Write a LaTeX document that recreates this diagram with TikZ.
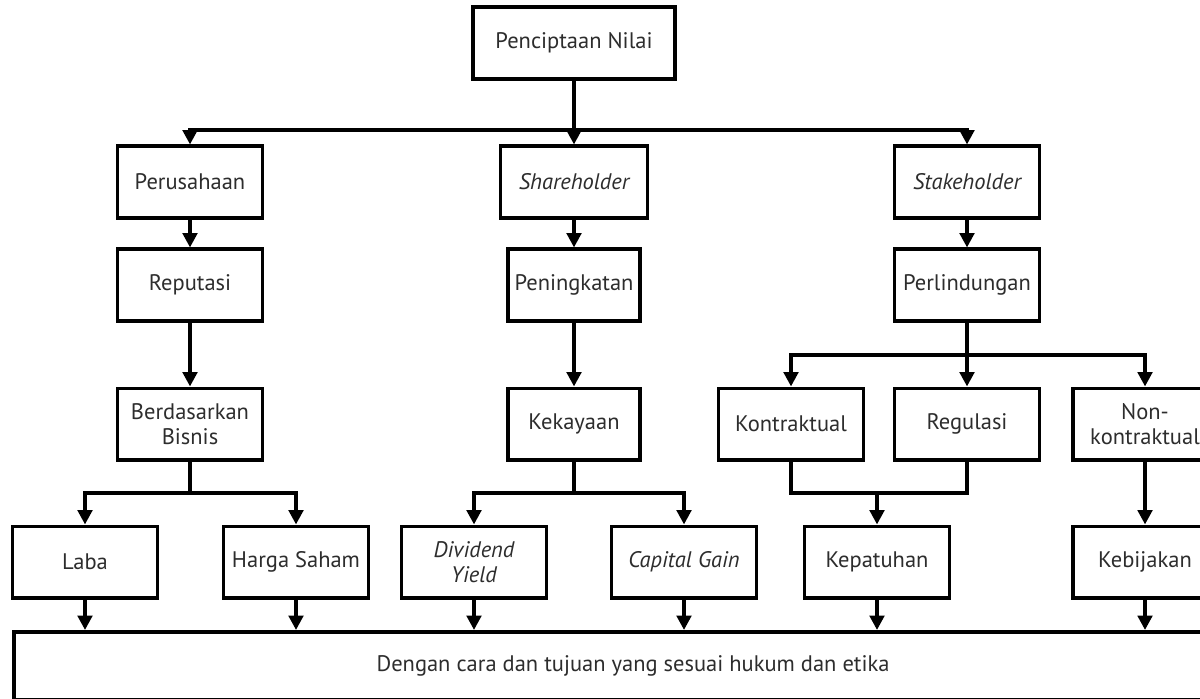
\documentclass[tikz,border=0pt]{standalone}
\usepackage{fontspec}
\setmainfont{PT Sans}
\usetikzlibrary{arrows.meta, positioning}
\definecolor{textgray}{RGB}{45,45,45}

\tikzset{
  box/.style={draw, line width=0.95mm, fill=white, text=textgray, align=center,
    minimum width=3.62cm, minimum height=1.78cm, inner sep=2pt,
    font=\fontsize{16}{18}\selectfont},
  narrow/.style={box, minimum width=3.3cm},
  arr/.style={line width=0.95mm, -{Triangle[width=3.6mm,length=3.6mm]}},
  link/.style={line width=0.95mm}
}

\begin{document}
\begin{tikzpicture}[x=0.025cm, y=-0.025cm]
    \clip (0,0) rectangle (1200,698);
    \fill[white] (0,0) rectangle (1200,698);

    % Top level
    \node[box, minimum width=5.05cm] (cipta) at (574,43) {Penciptaan Nilai};

    % Second level
    \node[box] (perusahaan) at (190,182) {Perusahaan};
    \node[box, minimum width=3.67cm] (share) at (574,182) {\itshape Shareholder};
    \node[box] (stake) at (967,182) {\itshape Stakeholder};

    \node[box] (reputasi) at (190,285) {Reputasi};
    \node[narrow] (tingkat) at (574,285) {Peningkatan};
    \node[box] (lindung) at (967,285) {Perlindungan};

    % Third level
    \node[box] (bisnis) at (190,424) {Berdasarkan\\Bisnis};
    \node[narrow] (kaya) at (574,424) {Kekayaan};
    \node[box] (kontrak) at (791,424) {Kontraktual};
    \node[box] (regulasi) at (967,424) {Regulasi};
    \node[box] (nonkontrak) at (1145,424) {Non-\\kontraktual};

    % Fourth level
    \node[box] (laba) at (85,562) {Laba};
    \node[box] (saham) at (296,562) {Harga Saham};
    \node[box] (dividen) at (474,562) {\itshape Dividend\\\itshape Yield};
    \node[box] (gain) at (684,562) {\itshape Capital Gain};
    \node[box] (patuh) at (877,562) {Kepatuhan};
    \node[box] (bijak) at (1145,562) {Kebijakan};

    % Bottom bar
    \node[box, anchor=north west, minimum width=30.95cm, minimum height=1.7cm] (dasar) at (12,630)
      {Dengan cara dan tujuan yang sesuai hukum dan etika};

    % Fork points
    \coordinate (f-top) at (574,130);
    \coordinate (f-lindung) at (967,355);
    \coordinate (f-bisnis) at (190,493);
    \coordinate (f-kaya) at (574,493);
    \coordinate (f-patuh) at (877,493);

    % Arrows
    \draw[arr] (cipta) -- (share);
    \draw[arr] (f-top) -| (perusahaan.north);
    \draw[arr] (f-top) -| (stake.north);

    \draw[arr] (perusahaan) -- (reputasi);
    \draw[arr] (share) -- (tingkat);
    \draw[arr] (stake) -- (lindung);

    \draw[arr] (reputasi) -- (bisnis);
    \draw[arr] (tingkat) -- (kaya);
    \draw[arr] (lindung) -- (regulasi);
    \draw[arr] (f-lindung) -| (kontrak.north);
    \draw[arr] (f-lindung) -| (nonkontrak.north);

    \draw[link] (bisnis) -- (f-bisnis);
    \draw[arr] (f-bisnis) -| (laba.north);
    \draw[arr] (f-bisnis) -| (saham.north);
    \draw[link] (kaya) -- (f-kaya);
    \draw[arr] (f-kaya) -| (dividen.north);
    \draw[arr] (f-kaya) -| (gain.north);

    \draw[link] (kontrak.south) |- (f-patuh) -| (regulasi.south);
    \draw[arr] (f-patuh) -- (patuh);
    \draw[arr] (nonkontrak) -- (bijak);

    \foreach \n in {laba, saham, dividen, gain, patuh, bijak}
      \draw[arr] (\n) -- (\n |- dasar.north);
\end{tikzpicture}
\end{document}
